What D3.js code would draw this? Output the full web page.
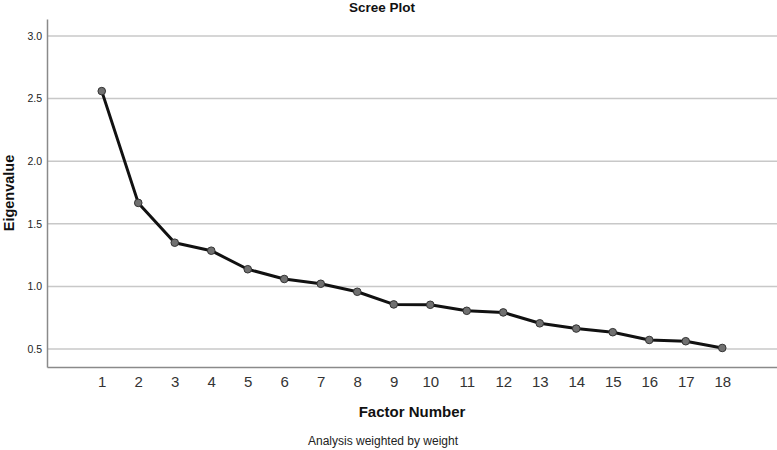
<!DOCTYPE html>
<html><head><meta charset="utf-8">
<script src="https://cdn.jsdelivr.net/npm/d3@7"></script>
<style>html,body{margin:0;padding:0;background:#fff;}svg{display:block;font-family:Arial,"Liberation Sans",sans-serif;}</style>
</head><body>
<svg id="c" width="777" height="450"></svg>
<script>
const factors = [1,2,3,4,5,6,7,8,9,10,11,12,13,14,15,16,17,18];
const eigenvalues = [2.56,1.667,1.349,1.285,1.137,1.059,1.021,0.957,0.856,0.853,0.805,0.792,0.705,0.663,0.634,0.572,0.562,0.508];
const yTicks = [0.5,1.0,1.5,2.0,2.5,3.0];
const title = "Scree Plot";
const xTitle = "Factor Number";
const yTitle = "Eigenvalue";
const footnote = "Analysis weighted by weight";

(function(){
const svg = d3.select("#c");
const pL = 47, pR = 777, pT = 19, pB = 367;
const x = d3.scaleLinear().domain([-0.5, 19.5]).range([pL, pR]);
const y = d3.scaleLinear().domain([0.356, 3.136]).range([pB, pT]);

// gridlines
svg.append("g").selectAll("line").data(yTicks).join("line")
  .attr("x1", pL).attr("x2", pR)
  .attr("y1", d => y(d)).attr("y2", d => y(d))
  .attr("stroke", "#c8c8c8").attr("stroke-width", 1.5);

// axes
const yAxis = d3.axisLeft(y).tickValues(yTicks).tickFormat(d3.format(".1f")).tickSize(0).tickPadding(5);
const gy = svg.append("g").attr("transform", `translate(${pL},0)`).call(yAxis);
gy.select(".domain").attr("stroke", "#8a8a8a").attr("stroke-width", 1.5);
gy.selectAll("text").attr("font-size", 10.5).attr("fill", "#222").attr("font-family", "Arial, 'Liberation Sans', sans-serif");

const xAxis = d3.axisBottom(x).tickValues(factors).tickFormat(d3.format("d")).tickSize(0).tickPadding(9);
const gx = svg.append("g").attr("transform", `translate(0,${pB})`).call(xAxis);
gx.select(".domain").attr("stroke", "#8a8a8a").attr("stroke-width", 1.5);
gx.selectAll("text").attr("font-size", 15).attr("fill", "#333").attr("font-family", "Arial, 'Liberation Sans', sans-serif");

// line
const line = d3.line().x((d,i) => x(factors[i])).y(d => y(d));
svg.append("path").datum(eigenvalues).attr("d", line)
  .attr("fill", "none").attr("stroke", "#111").attr("stroke-width", 3).attr("stroke-linejoin", "round");

svg.append("g").selectAll("circle").data(eigenvalues).join("circle")
  .attr("cx", (d,i) => x(factors[i])).attr("cy", d => y(d)).attr("r", 3.8)
  .attr("fill", "#707070").attr("stroke", "#333").attr("stroke-width", 1);

// titles
svg.append("text").attr("x", 382).attr("y", 12).attr("text-anchor", "middle")
  .attr("font-size", 13.5).attr("font-weight", "bold").attr("fill", "#111").text(title);
svg.append("text").attr("x", 412).attr("y", 417).attr("text-anchor", "middle")
  .attr("font-size", 15).attr("font-weight", "bold").attr("fill", "#111").text(xTitle);
svg.append("text").attr("transform", "translate(14,193) rotate(-90)").attr("text-anchor", "middle")
  .attr("font-size", 14.5).attr("font-weight", "bold").attr("fill", "#111").text(yTitle);
svg.append("text").attr("x", 383).attr("y", 445).attr("text-anchor", "middle")
  .attr("font-size", 12).attr("fill", "#222").text(footnote);
})();
</script>
</body></html>
